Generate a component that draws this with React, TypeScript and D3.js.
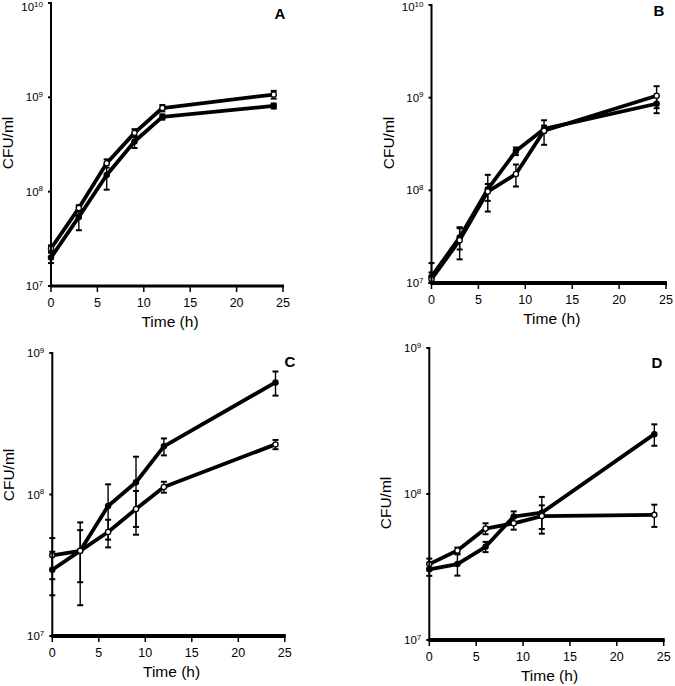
import React from "react";
import * as d3 from "d3";

// ---- Data ----
const times = [0, 3, 6, 9, 12, 24];
const xTicks = [0, 5, 10, 15, 20, 25];

// Panel A
const a1Mean = [2.5e7, 6.7e7, 2.0e8, 4.2e8, 7.7e8, 1.07e9];
const a1Err = [2e6, 5e6, 2e7, 4e7, 6e7, 1e8];
const a2Mean = [2.0e7, 5.4e7, 1.5e8, 3.4e8, 6.2e8, 8.1e8];
const a2Err = [2.5e6, 1.5e7, 4.5e7, 5e7, 4e7, 5e7];

// Panel B
const b1Mean = [1.17e7, 3.1e7, 1.03e8, 2.65e8, 4.6e8, 8.6e8];
const b1Err = [4.7e6, 8e6, 4.4e7, 2.5e7, 4e7, 1.8e8];
const b2Mean = [1.1e7, 2.9e7, 9.7e7, 1.5e8, 4.4e8, 1.05e9];
const b2Err = [2e6, 1.1e7, 2e7, 4e7, 1.3e8, 2.8e8];

// Panel C
const c1Mean = [2.94e7, 4.0e7, 8.3e7, 1.22e8, 2.19e8, 6.2e8];
const c1Err = [1.0e7, 2.35e7, 3.5e7, 6.3e7, 3e7, 1.2e8];
const c2Mean = [3.72e7, 4.0e7, 5.43e7, 7.9e7, 1.13e8, 2.26e8];
const c2Err = [1.2e7, 1.6e7, 1.2e7, 2.7e7, 1.0e7, 1.7e7];

// Panel D
const d1Mean = [3.05e7, 3.31e7, 4.35e7, 7.0e7, 7.45e7, 2.57e8];
const d1Err = [3e6, 5.5e6, 3.5e6, 6e6, 2.1e7, 4.3e7];
const d2Mean = [3.31e7, 4.1e7, 5.8e7, 6.3e7, 7.06e7, 7.2e7];
const d2Err = [3e6, 2e6, 5e6, 6e6, 1.3e7, 1.25e7];

type Series = { mean: number[]; err: number[]; filled: boolean };

type PanelCfg = {
  letter: string;
  x0: number;
  x1: number;
  yTop: number;
  yBot: number;
  expTop: number;
  expBot: number;
  series: Series[];
  letterX: number;
  letterY: number;
  yLabelY: number;
  xAxisW: number;
};

const panels: PanelCfg[] = [
  {
    letter: "A", x0: 51, x1: 283, yTop: 3, yBot: 286, expTop: 10, expBot: 7,
    series: [
      { mean: a1Mean, err: a1Err, filled: false },
      { mean: a2Mean, err: a2Err, filled: true },
    ],
    letterX: 280, letterY: 19, yLabelY: 143, xAxisW: 3,
  },
  {
    letter: "B", x0: 431.5, x1: 666, yTop: 5, yBot: 283, expTop: 10, expBot: 7,
    series: [
      { mean: b1Mean, err: b1Err, filled: true },
      { mean: b2Mean, err: b2Err, filled: false },
    ],
    letterX: 659, letterY: 16, yLabelY: 143, xAxisW: 4,
  },
  {
    letter: "C", x0: 52.3, x1: 284.8, yTop: 353, yBot: 636, expTop: 9, expBot: 7,
    series: [
      { mean: c1Mean, err: c1Err, filled: true },
      { mean: c2Mean, err: c2Err, filled: false },
    ],
    letterX: 290, letterY: 367, yLabelY: 475, xAxisW: 4,
  },
  {
    letter: "D", x0: 429.3, x1: 663.7, yTop: 348, yBot: 640, expTop: 9, expBot: 7,
    series: [
      { mean: d1Mean, err: d1Err, filled: true },
      { mean: d2Mean, err: d2Err, filled: false },
    ],
    letterX: 657, letterY: 368, yLabelY: 503, xAxisW: 4,
  },
];

const FONT = "Liberation Sans, Arial, sans-serif";

function Panel({ cfg }: { cfg: PanelCfg }) {
  const x = d3.scaleLinear().domain([0, 25]).range([cfg.x0, cfg.x1]);
  const y = d3
    .scaleLog()
    .domain([Math.pow(10, cfg.expBot), Math.pow(10, cfg.expTop)])
    .range([cfg.yBot, cfg.yTop]);
  const line = d3
    .line<number>()
    .x((_, i) => x(times[i]))
    .y((d) => y(d));
  const exps = d3.range(cfg.expBot, cfg.expTop + 1);
  const mid = (cfg.x0 + cfg.x1) / 2;
  return (
    <g>
      {/* series lines */}
      {cfg.series.map((s, si) => (
        <path key={"l" + si} d={line(s.mean) || ""} fill="none" stroke="#000" strokeWidth={3.8} strokeLinejoin="round" />
      ))}
      {/* error bars */}
      {cfg.series.map((s, si) =>
        s.mean.map((m, i) => {
          const cx = x(times[i]);
          const hi = y(m + s.err[i]);
          const lo = y(Math.max(m - s.err[i], Math.pow(10, cfg.expBot)));
          return (
            <g key={"e" + si + "-" + i} stroke="#000" strokeWidth={1.4}>
              <line x1={cx} x2={cx} y1={hi} y2={lo} />
              <line x1={cx - 3} x2={cx + 3} y1={hi} y2={hi} strokeWidth={2} />
              <line x1={cx - 3} x2={cx + 3} y1={lo} y2={lo} strokeWidth={2} />
            </g>
          );
        })
      )}
      {/* markers */}
      {cfg.series.map((s, si) =>
        s.mean.map((m, i) => (
          <circle
            key={"m" + si + "-" + i}
            cx={x(times[i])}
            cy={y(m)}
            r={2.6}
            fill={s.filled ? "#000" : "#fff"}
            stroke="#000"
            strokeWidth={1.3}
          />
        ))
      )}
      {/* y axis */}
      <line x1={cfg.x0} x2={cfg.x0} y1={cfg.yTop - 1} y2={cfg.yBot} stroke="#000" strokeWidth={2} />
      {exps.map((e) => (
        <g key={"yt" + e}>
          <line x1={cfg.x0 - 3} x2={cfg.x0} y1={y(Math.pow(10, e))} y2={y(Math.pow(10, e))} stroke="#000" strokeWidth={2} />
          <text x={cfg.x0 - 8} y={Math.max(y(Math.pow(10, e)) + 4, 11)} textAnchor="end" fontFamily={FONT} fontSize={11.5} fill="#000">
            10<tspan dy={-4.5} fontSize={8}>{e}</tspan>
          </text>
        </g>
      ))}
      {/* x axis */}
      <line x1={cfg.x0 - 1} x2={cfg.x1 + 1} y1={cfg.yBot} y2={cfg.yBot} stroke="#000" strokeWidth={cfg.xAxisW} />
      {xTicks.map((t) => (
        <g key={"xt" + t}>
          <line x1={x(t)} x2={x(t)} y1={cfg.yBot} y2={cfg.yBot + 6} stroke="#000" strokeWidth={1.5} />
          <text x={x(t)} y={cfg.yBot + 21} textAnchor="middle" fontFamily={FONT} fontSize={12.5} fill="#000">
            {t}
          </text>
        </g>
      ))}
      <text x={mid + 3} y={cfg.yBot + 41} textAnchor="middle" fontFamily={FONT} fontSize={15.5} fill="#000">
        Time (h)
      </text>
      <text
        transform={`translate(${cfg.x0 - 38},${cfg.yLabelY}) rotate(-90)`}
        textAnchor="middle"
        fontFamily={FONT}
        fontSize={15.5}
        fill="#000"
      >
        CFU/ml
      </text>
      <text x={cfg.letterX} y={cfg.letterY} textAnchor="middle" fontFamily={FONT} fontSize={15} fontWeight="bold" fill="#000">
        {cfg.letter}
      </text>
    </g>
  );
}

export default function App() {
  return (
    <svg width={675} height={686} style={{ position: "absolute", left: 0, top: 0, background: "#fff" }}>
      <rect width={675} height={686} fill="#fff" />
      {panels.map((p) => (
        <Panel key={p.letter} cfg={p} />
      ))}
    </svg>
  );
}
